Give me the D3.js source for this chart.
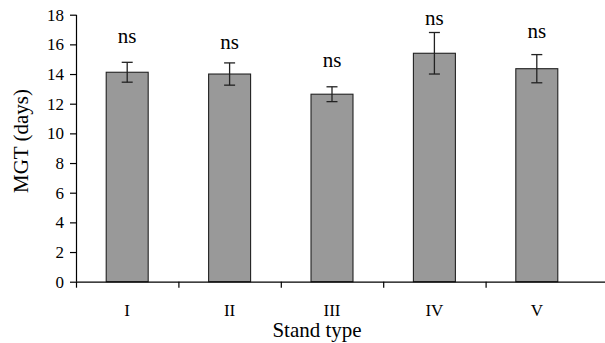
<!DOCTYPE html>
<html><head><meta charset="utf-8">
<script src="https://cdn.jsdelivr.net/npm/d3@7"></script>
<style>
html,body{margin:0;padding:0;background:#fff;}
svg{display:block;}
</style></head>
<body><svg id="c" width="605" height="343"></svg>
<script>
const categories = ["I","II","III","IV","V"];
const means = [14.12, 14.0, 12.64, 15.4, 14.36];
const errors = [0.67, 0.75, 0.5, 1.4, 0.95];
const sigLabels = ["ns","ns","ns","ns","ns"];
const sigLabelY = [16.12, 15.67, 14.5, 17.31, 16.41];
const yTicks = [0,2,4,6,8,10,12,14,16,18];
const yTitle = "MGT (days)";
const xTitle = "Stand type";
const FONT = "Liberation Serif";

const svg = d3.select("#c");
const x = d3.scaleBand().domain(categories).range([76, 588]).paddingInner(0.59).paddingOuter(0.295);
const xt = d3.scaleBand().domain(categories).range([76, 588]);
const y = d3.scaleLinear().domain([0, 18]).range([281.7, 14.7]);

// bars
svg.selectAll("rect.bar").data(categories).enter().append("rect")
  .attr("x", d => x(d)).attr("width", x.bandwidth())
  .attr("y", (d,i) => y(means[i])).attr("height", (d,i) => y(0) - y(means[i]))
  .attr("fill", "#999999").attr("stroke", "#222").attr("stroke-width", 1.1);

// error bars
const eg = svg.append("g").attr("stroke", "#222").attr("stroke-width", 1.3);
categories.forEach((c,i) => {
  const cx = x(c) + x.bandwidth()/2;
  const y1 = y(means[i] + errors[i]), y2 = y(means[i] - errors[i]);
  eg.append("line").attr("x1", cx).attr("x2", cx).attr("y1", y1).attr("y2", y2);
  eg.append("line").attr("x1", cx-5.5).attr("x2", cx+5.5).attr("y1", y1).attr("y2", y1);
  eg.append("line").attr("x1", cx-5.5).attr("x2", cx+5.5).attr("y1", y2).attr("y2", y2);
});

// sig labels
svg.selectAll("text.sig").data(categories).enter().append("text")
  .attr("x", d => x(d) + x.bandwidth()/2).attr("y", (d,i) => y(sigLabelY[i]))
  .attr("text-anchor", "middle").attr("font-size", 21).attr("font-family", FONT).attr("fill", "#000")
  .text((d,i) => sigLabels[i]);

// y axis
const ya = svg.append("g").attr("transform", "translate(76,0)")
  .call(d3.axisLeft(y).tickValues(yTicks).tickSize(6).tickPadding(6).tickFormat(d3.format("d")));
ya.attr("font-family", FONT);
ya.select(".domain").attr("stroke", "#000").attr("stroke-width", 1.2).attr("d", `M0.5,${y(0)}V${y(18)}`);
ya.selectAll(".tick line").attr("stroke", "#000").attr("stroke-width", 1.2);
ya.selectAll(".tick text").attr("font-size", 17).attr("font-family", FONT).attr("fill", "#000");

// x axis
const xa = svg.append("g").attr("transform", `translate(0,${y(0)})`)
  .call(d3.axisBottom(xt).tickSize(0).tickPadding(22));
xa.attr("font-family", FONT);
xa.select(".domain").attr("stroke", "#000").attr("stroke-width", 1.2).attr("d", "M76,0.5H605");
xa.selectAll(".tick text").attr("font-size", 17).attr("font-family", FONT).attr("fill", "#000");
const bounds = categories.map(c => xt(c));
xa.selectAll("line.bt").data(bounds).enter().append("line")
  .attr("x1", d => d + 0.5).attr("x2", d => d + 0.5).attr("y1", 0).attr("y2", 6)
  .attr("stroke", "#000").attr("stroke-width", 1.2);

// titles
svg.append("text").attr("x", 317).attr("y", 337).attr("text-anchor", "middle")
  .attr("font-size", 21).attr("font-family", FONT).attr("fill", "#000").text(xTitle);
svg.append("text").attr("transform", "translate(28,141) rotate(-90)").attr("text-anchor", "middle")
  .attr("font-size", 21).attr("font-family", FONT).attr("fill", "#000").text(yTitle);
</script></body></html>
